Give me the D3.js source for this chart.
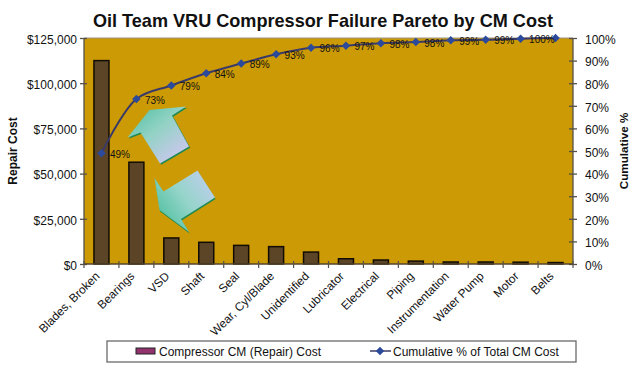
<!DOCTYPE html>
<html><head><meta charset="utf-8">
<script src="https://cdn.jsdelivr.net/npm/d3@7"></script>
<style>html,body{margin:0;padding:0;background:#fff}svg{display:block}text{font-family:"Liberation Sans",Arial,sans-serif;fill:#111}</style>
</head><body><svg id="c" width="640" height="376"></svg>
<script>
const categories=["Blades, Broken","Bearings","VSD","Shaft","Seal","Wear, Cyl/Blade","Unidentified","Lubricator","Electrical","Piping","Instrumentation","Water Pump","Motor","Belts"];
const repairCost=[112500,56300,14400,12000,10300,9600,6600,2900,2200,1600,1100,1100,1000,800];
const cumulativePct=[49,73,79,84.4,88.7,92.8,95.7,96.6,97.7,98.2,99,99.2,99.7,100];
const pctLabels=["49%","73%","79%","84%","89%","93%","96%","97%","98%","98%","99%","99%","100%",""];
const costTicks=[0,25000,50000,75000,100000,125000];
const pctTicks=[0,10,20,30,40,50,60,70,80,90,100];
const arrowUp=[[186,106.5],[149.5,110],[127.5,137.5],[140.5,132.5],[160,163.5],[189,146.5],[172,115.5]];
const arrowDown=[[197.5,170.5],[215,197.5],[181,219],[189,232],[159.5,210],[154.5,178],[163.5,191.5]];

const m={l:84,r:573,t:38,b:264};
const svg=d3.select("#c");
const x=d3.scaleBand().domain(categories).range([m.l,m.r]);
const yL=d3.scaleLinear().domain([0,125000]).range([m.b,m.t]);
const yR=d3.scaleLinear().domain([0,100]).range([m.b,m.t]);

const defs=svg.append("defs");
const g1=defs.append("linearGradient").attr("id","ga").attr("x1","0.1").attr("y1","0.1").attr("x2","0.8").attr("y2","0.9");
g1.append("stop").attr("offset","0").attr("stop-color","#5cc4a8");
g1.append("stop").attr("offset","0.45").attr("stop-color","#92d2c4");
g1.append("stop").attr("offset","1").attr("stop-color","#c8c8ec");
const g2=defs.append("linearGradient").attr("id","gb").attr("x1","0.15").attr("y1","0.75").attr("x2","0.9").attr("y2","0.2");
g2.append("stop").attr("offset","0").attr("stop-color","#5cc4a8");
g2.append("stop").attr("offset","0.5").attr("stop-color","#96d4ca");
g2.append("stop").attr("offset","1").attr("stop-color","#b8cfe8");

svg.append("rect").attr("x",m.l).attr("y",m.t).attr("width",m.r-m.l).attr("height",m.b-m.t).attr("fill","#cc9a05");
svg.append("line").attr("x1",m.l).attr("x2",m.r).attr("y1",m.t).attr("y2",m.t).attr("stroke","#9a9080");

// bars
svg.append("g").selectAll("rect").data(categories).join("rect")
 .attr("x",d=>x(d)+x.bandwidth()/2-7.5).attr("width",15)
 .attr("y",(d,i)=>yL(repairCost[i])).attr("height",(d,i)=>m.b-yL(repairCost[i]))
 .attr("fill","#5c4526").attr("stroke","#120c04").attr("stroke-width",1.5);

// arrows
[[arrowUp,"url(#ga)",[1.2,1.2]],[arrowDown,"url(#gb)",[0.6,1.4]]].forEach(([p,f,o])=>{
  const s=d3.line()(p)+"Z";
  svg.append("path").attr("d",s).attr("fill","#1f8a52").attr("transform",`translate(${o})`);
  svg.append("path").attr("d",s).attr("fill",f);
});

// axes
const axL=d3.axisLeft(yL).tickValues(costTicks).tickFormat(d=>"$"+d3.format(",")(d)).tickSize(7).tickPadding(0);
const gL=svg.append("g").attr("transform",`translate(${m.l},0)`).call(axL);
const axR=d3.axisRight(yR).tickValues(pctTicks).tickFormat(d=>d+"%").tickSize(7).tickPadding(5);
const gR=svg.append("g").attr("transform",`translate(${m.r},0)`).call(axR);
[gL,gR].forEach(g=>{g.selectAll("text").attr("font-size",12).attr("y",1.5);g.selectAll("line,path").attr("stroke","#55504a").attr("stroke-width",1.3);});
gL.select(".domain").attr("d",`M0,${m.t}V${m.b}`);gR.select(".domain").attr("d",`M0,${m.t}V${m.b}`);
gL.selectAll("line").attr("x1",-4).attr("x2",3);
gR.selectAll("line").attr("x1",-4).attr("x2",4);

const base=svg.append("g");
base.append("line").attr("x1",m.l).attr("x2",m.r).attr("y1",m.b).attr("y2",m.b).attr("stroke","#55452a").attr("stroke-width",1.5);
const tickPos=categories.map(d=>x(d)).concat([m.r]);
base.selectAll("line.t").data(tickPos).join("line").attr("class","t")
 .attr("x1",d=>d).attr("x2",d=>d).attr("y1",m.b-3).attr("y2",m.b+4).attr("stroke","#55504a").attr("stroke-width",1.2);
base.selectAll("text").data(categories).join("text")
 .attr("text-anchor","end").attr("font-size",11.8)
 .attr("transform",d=>`translate(${x(d)+x.bandwidth()/2-7},${m.b+7}) rotate(-45)`)
 .attr("dy","0.7em").text(d=>d);

// line
const cx=d=>x(d)+x.bandwidth()/2;
const line=d3.line().x(d=>cx(d)).y((d,i)=>yR(cumulativePct[i])).curve(d3.curveCatmullRom.alpha(0.5));
svg.append("path").datum(categories).attr("d",line).attr("fill","none").attr("stroke","#3a3a68").attr("stroke-width",2);
const marker=d3.symbol().type(d3.symbolSquare).size(36);
svg.append("g").selectAll("path").data(categories).join("path")
 .attr("d",marker)
 .attr("transform",(d,i)=>`translate(${cx(d)},${yR(cumulativePct[i])}) rotate(45)`).attr("fill","#2c4a9c");
svg.append("g").selectAll("text").data(categories).join("text")
 .attr("x",d=>cx(d)+8.5).attr("y",(d,i)=>yR(cumulativePct[i])+1).attr("dy","0.35em")
 .attr("font-size",10).text((d,i)=>pctLabels[i]);

// titles
svg.append("text").attr("x",323).attr("y",27).attr("text-anchor","middle").attr("font-size",18.1).attr("font-weight","bold").attr("fill","#000").text("Oil Team VRU Compressor Failure Pareto by CM Cost");
svg.append("text").attr("transform","translate(17,151) rotate(-90)").attr("text-anchor","middle").attr("font-size",12).attr("font-weight","bold").text("Repair Cost");
svg.append("text").attr("transform","translate(628,151) rotate(-90)").attr("text-anchor","middle").attr("font-size",11.7).attr("font-weight","bold").text("Cumulative %");

// legend
const lg=svg.append("g");
lg.append("rect").attr("x",107).attr("y",341).attr("width",469).attr("height",21).attr("fill","#fff").attr("stroke","#6a6a6a").attr("stroke-width",1.3);
lg.append("rect").attr("x",136).attr("y",348).attr("width",19).attr("height",6).attr("fill","#93336e").attr("stroke","#222").attr("stroke-width",1);
lg.append("text").attr("x",159).attr("y",356).attr("font-size",12).text("Compressor CM (Repair) Cost");
lg.append("line").attr("x1",370).attr("x2",391).attr("y1",351).attr("y2",351).attr("stroke","#3a3a68").attr("stroke-width",1.5);
lg.append("path").attr("d",marker).attr("transform","translate(380,351) rotate(45)").attr("fill","#2c4a9c");
lg.append("text").attr("x",393).attr("y",356).attr("font-size",12).text("Cumulative % of Total CM Cost");
</script></body></html>
